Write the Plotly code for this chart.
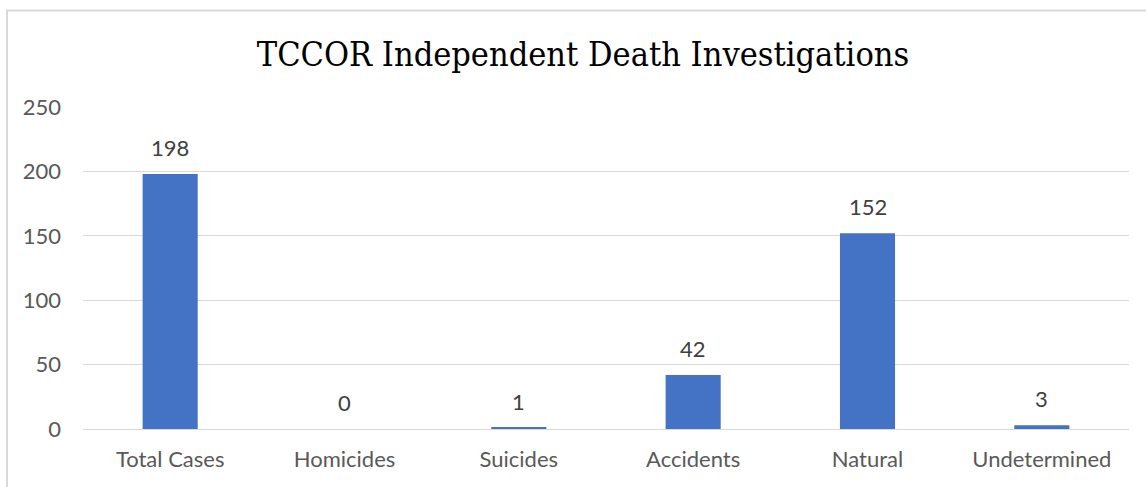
import plotly.graph_objects as go

categories = ["Total Cases", "Homicides", "Suicides", "Accidents", "Natural", "Undetermined"]
counts = [198, 0, 1, 42, 152, 3]
y_ticks = [0, 50, 100, 150, 200, 250]

BAR_BLUE = "#4472C4"
GRID = "#D9D9D9"
LABEL_GRAY = "#595959"
FONT = "Lato"

fig = go.Figure()
fig.add_trace(go.Bar(
    x=categories,
    y=counts,
    marker=dict(color=BAR_BLUE, line=dict(width=0)),
    hoverinfo="x+y",
))

# value labels sitting above each bar
for cat, val in zip(categories, counts):
    fig.add_annotation(
        x=cat, y=val, text=str(val),
        showarrow=False, yanchor="bottom", yshift=11,
        font=dict(family=FONT, size=22, color="#404040"),
    )

# light frame around the whole chart
fig.add_shape(
    type="rect", xref="paper", yref="paper",
    x0=(7 - 83) / 1046, x1=(1160 - 83) / 1046,
    y0=-(500 - 429) / 322, y1=1 + (107 - 10.5) / 322,
    line=dict(color=GRID, width=2), fillcolor="rgba(0,0,0,0)", layer="below",
)

fig.update_layout(
    width=1146, height=487,
    margin=dict(l=83, r=17, t=107, b=58),
    paper_bgcolor="white", plot_bgcolor="white",
    bargap=0.684,
    showlegend=False,
    title=dict(
        text="TCCOR Independent Death Investigations",
        font=dict(family="DejaVu Serif Condensed", size=34, color="#000000"),
        x=583 / 1146, xanchor="center", xref="container",
        y=1 - 54 / 487, yanchor="middle", yref="container",
    ),
    xaxis=dict(
        type="category",
        showgrid=False, zeroline=False, showline=False,
        ticks="", ticklabelstandoff=15,
        tickfont=dict(family=FONT, size=22, color=LABEL_GRAY),
    ),
    yaxis=dict(
        range=[0, 250],
        tickvals=y_ticks,
        showgrid=True, gridcolor=GRID, gridwidth=1.3,
        zeroline=True, zerolinecolor=GRID, zerolinewidth=1.3,
        showline=False, ticks="", ticklabelstandoff=21,
        tickfont=dict(family=FONT, size=22, color=LABEL_GRAY),
    ),
)

fig.write_html("out.html")
